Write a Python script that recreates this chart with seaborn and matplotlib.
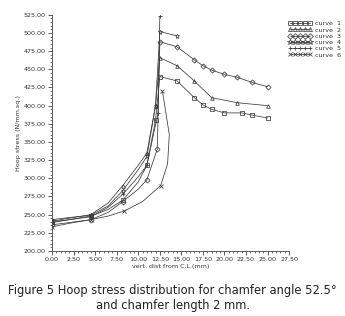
import numpy as np
import pandas as pd
import matplotlib
matplotlib.use("Agg")
import matplotlib.pyplot as plt
import seaborn as sns
from matplotlib.ticker import MultipleLocator, FormatStrFormatter

sns.set_style("white")
plt.rcParams['font.family'] = ['DejaVu Sans']

# data
c1_x = [0.0, 2.0, 4.5, 6.5, 8.2, 10.0, 11.0, 12.0, 12.5, 14.5, 16.5, 17.5, 18.5, 20.0, 22.0, 23.2, 25.0]
c1_y = [240, 243, 248, 257, 270, 295, 318, 380, 440, 434, 411, 401, 395, 390, 390, 387, 383]
c2_x = [0.0, 2.0, 4.5, 6.5, 8.2, 10.0, 11.0, 12.0, 12.5, 14.5, 16.5, 18.5, 21.5, 25.0]
c2_y = [241, 245, 250, 266, 290, 318, 335, 400, 466, 455, 434, 411, 404, 400]
c3_x = [0.0, 2.0, 4.5, 6.5, 8.2, 10.0, 11.0, 12.2, 12.5, 14.5, 16.5, 17.5, 18.5, 20.0, 21.5, 23.2, 25.0]
c3_y = [236, 239, 243, 253, 268, 285, 298, 340, 488, 481, 463, 455, 449, 443, 439, 432, 426]
c4_x = [0.0, 2.0, 4.5, 6.5, 8.2, 10.0, 11.0, 12.0, 12.5, 14.5]
c4_y = [243, 246, 249, 262, 283, 312, 330, 400, 502, 496]
c5_x = [0.0, 2.0, 4.5, 6.5, 8.2, 10.0, 11.0, 12.3, 12.5]
c5_y = [239, 243, 247, 260, 278, 302, 318, 390, 523]
c6_x = [0.0, 2.0, 4.5, 6.5, 8.4, 10.5, 12.6, 13.4, 13.6, 12.8]
c6_y = [233, 238, 243, 248, 255, 268, 290, 320, 360, 420]

names = ["curve  1", "curve  2", "curve  3", "curve  4", "curve  5", "curve  6"]
xs = [c1_x, c2_x, c3_x, c4_x, c5_x, c6_x]
ys = [c1_y, c2_y, c3_y, c4_y, c5_y, c6_y]
markers = ["s", "^", "D", "*", "+", "x"]
# which points carry a marker
mark_x = [0.0, 4.5, 8.2, 8.4, 11.0, 12.0, 12.2, 12.3, 12.5, 12.6, 12.8,
          14.5, 16.5, 17.5, 18.5, 20.0, 21.5, 22.0, 23.2, 25.0]

frames = []
for n, x, y in zip(names, xs, ys):
    frames.append(pd.DataFrame({"x": x, "y": y, "curve": n}))
df = pd.concat(frames, ignore_index=True)

fig = plt.figure(figsize=(3.45, 3.16), dpi=100)
ax = fig.add_axes([0.151, 0.206, 0.687, 0.747])

ink = "#3a3a3a"
for n, m in zip(names, markers):
    sub = df[df["curve"] == n].reset_index(drop=True)
    every = [i for i, v in enumerate(sub["x"]) if v in mark_x]
    sns.lineplot(data=sub, x="x", y="y", sort=False, ax=ax, color=ink,
                 lw=0.55, marker=m, markersize=3.6 if m == "*" else 2.6,
                 markevery=every,
                 markerfacecolor="none" if m not in ("+", "x") else ink,
                 markeredgecolor=ink, markeredgewidth=0.55, label=n)

ax.set_xlim(0, 27.5)
ax.set_ylim(200, 525)
ax.xaxis.set_major_locator(MultipleLocator(2.5))
ax.xaxis.set_minor_locator(MultipleLocator(0.5))
ax.yaxis.set_major_locator(MultipleLocator(25))
ax.yaxis.set_minor_locator(MultipleLocator(5))
ax.xaxis.set_major_formatter(FormatStrFormatter("%.2f"))
ax.yaxis.set_major_formatter(FormatStrFormatter("%.2f"))
ax.tick_params(axis="both", which="major", labelsize=4.6, length=3, width=0.6,
               color="#444444", labelcolor="#333333", pad=1.5, direction="out")
ax.tick_params(axis="both", which="minor", length=1.6, width=0.5, color="#444444")
ax.tick_params(axis="x", bottom=True, which="both")
ax.tick_params(axis="y", left=True, which="both")
for s in ["top", "right"]:
    ax.spines[s].set_visible(False)
for s in ["left", "bottom"]:
    ax.spines[s].set_linewidth(0.6)
    ax.spines[s].set_color("#444444")

ax.set_xlabel("vert. dist from C.L.(mm)", fontsize=4.6, color="#333333", labelpad=1)
ax.set_ylabel("Hoop stress (N/mm.sq.)", fontsize=4.6, color="#333333", labelpad=2)

handles, labels = ax.get_legend_handles_labels()
leg = ax.legend(handles, labels, loc="upper left", bbox_to_anchor=(0.985, 0.985),
                frameon=False, fontsize=4.6, numpoints=5, handlelength=3.8,
                handletextpad=0.4, labelspacing=0.12, borderaxespad=0,
                markerscale=1.1)
for line in leg.get_lines():
    line.set_markevery(None)
for t in leg.get_texts():
    t.set_color("#333333")

fig.text(0.5, 0.082, "Figure 5 Hoop stress distribution for chamfer angle 52.5°",
         ha="center", va="center", fontsize=8.3, color="#222222")
fig.text(0.5, 0.032, "and chamfer length 2 mm.", ha="center", va="center",
         fontsize=8.3, color="#222222")

fig.savefig("out.png", dpi=100, facecolor="white")
